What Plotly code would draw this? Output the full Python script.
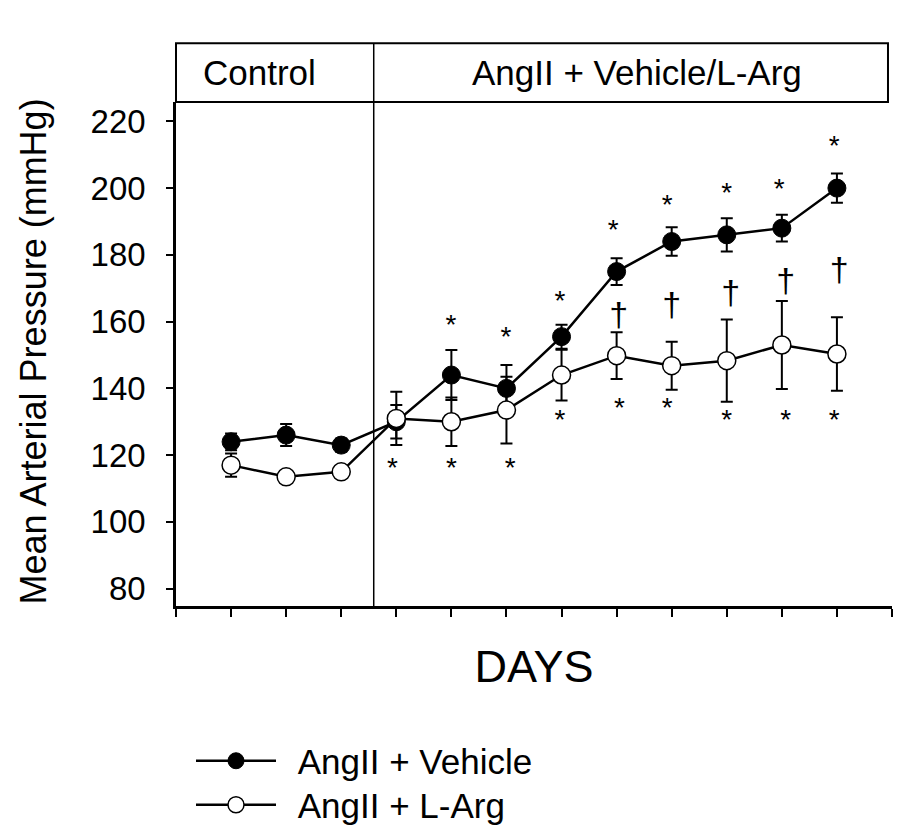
import plotly.graph_objects as go

# ---- data ----
days = [1, 2, 3, 4, 5, 6, 7, 8, 9, 10, 11, 12]
vehicle = [124, 126, 123, 130, 144, 140, 155.5, 175, 184, 186, 188, 200]
vehicle_err = [2.5, 3.3, 2, 5, 7.5, 7, 3.6, 4, 4.3, 5, 4, 4.4]
larg = [117, 113.5, 115, 131, 130, 133.5, 144, 149.8, 146.8, 148.3, 153, 150.3]
larg_err = [3.5, 1.5, 1.5, 8, 7.3, 10, 7.6, 7, 7.2, 12.3, 13.2, 11]
series_names = ["AngII + Vehicle", "AngII + L-Arg"]

# significance symbols (positions: glyph centres)
star_hi_x = [4.99, 5.99, 6.97, 7.94, 8.92, 10.0, 10.95, 11.95]
star_hi_y = [160.2, 156.7, 167.5, 188.7, 196.2, 199.8, 200.9, 213.8]
dagger_x = [8.04, 9.0, 10.07, 11.07, 12.04]
dagger_y = [162.7, 165.7, 169.2, 172.7, 176.2]
star_lo_x = [3.93, 5.0, 6.07, 6.97, 8.05, 8.92, 10.0, 11.07, 11.95]
star_lo_y = [117.4, 117.4, 117.4, 131.8, 135.3, 135.3, 131.8, 131.8, 131.8]

x_ticks = list(range(0, 14))
y_ticks = [80, 100, 120, 140, 160, 180, 200, 220]
phase_split = 3.59
header_labels = ["Control", "AngII + Vehicle/L-Arg"]
header_label_x = [1.52, 8.37]

FONT = "Liberation Sans, Arial, sans-serif"
STAR_SHIFT = 1.8    # asterisk glyph sits high in the line box
DAGGER_SHIFT = 1.4  # dagger glyph sits low
GAP = "\u00a0\u2009"

fig = go.Figure()

fig.add_trace(go.Scatter(
    x=days, y=vehicle, name=GAP + series_names[0], mode="lines+markers",
    line=dict(color="black", width=2.5), legend="legend",
    marker=dict(symbol="circle", size=18, color="black", line=dict(color="black", width=1)),
    error_y=dict(type="data", array=vehicle_err, visible=True, color="black", thickness=2, width=6),
))
fig.add_trace(go.Scatter(
    x=days, y=larg, name=GAP + series_names[1], mode="lines+markers",
    line=dict(color="black", width=2.5), legend="legend2",
    marker=dict(symbol="circle", size=18, color="white", line=dict(color="black", width=1.5)),
    error_y=dict(type="data", array=larg_err, visible=True, color="black", thickness=2, width=6),
))

fig.add_trace(go.Scatter(
    x=star_hi_x, y=[v - STAR_SHIFT for v in star_hi_y], mode="text",
    text=["*"] * len(star_hi_x), textfont=dict(family=FONT, size=28, color="black"),
    showlegend=False, hoverinfo="skip"))
fig.add_trace(go.Scatter(
    x=star_lo_x, y=[v - STAR_SHIFT for v in star_lo_y], mode="text",
    text=["*"] * len(star_lo_x), textfont=dict(family=FONT, size=28, color="black"),
    showlegend=False, hoverinfo="skip"))
fig.add_trace(go.Scatter(
    x=dagger_x, y=[v - DAGGER_SHIFT for v in dagger_y], mode="text",
    text=["†"] * len(dagger_x), textfont=dict(family=FONT, size=34, color="black"),
    showlegend=False, hoverinfo="skip"))

HEADER_TOP = 1.1166

# header box
fig.add_shape(type="rect", xref="x domain", yref="y domain",
              x0=0, x1=0.9944, y0=1, y1=HEADER_TOP,
              line=dict(color="black", width=2), fillcolor="rgba(0,0,0,0)")
# divider through plot and header
fig.add_shape(type="line", xref="x", yref="y domain",
              x0=phase_split, x1=phase_split, y0=0, y1=HEADER_TOP,
              line=dict(color="black", width=1.5))

for lab, lx in zip(header_labels, header_label_x):
    fig.add_annotation(x=lx, xref="x", y=(1 + HEADER_TOP) / 2, yref="y domain",
                       text=lab, showarrow=False, xanchor="center", yanchor="middle",
                       font=dict(family=FONT, size=35, color="black"))

# y-axis title
fig.add_annotation(x=-0.1997, xref="paper", y=0.505, yref="paper",
                   text="Mean Arterial Pressure (mmHg)", textangle=-90, showarrow=False,
                   xanchor="center", yanchor="middle",
                   font=dict(family=FONT, size=36, color="black"))

legend_common = dict(
    xref="container", yref="container", xanchor="left", yanchor="middle",
    font=dict(family=FONT, size=35, color="black"),
    itemwidth=80, bgcolor="rgba(0,0,0,0)",
)

W, H = 905, 837
fig.update_layout(
    width=W, height=H,
    margin=dict(l=168, r=21, t=94, b=238.5, autoexpand=False),
    paper_bgcolor="white", plot_bgcolor="white",
    font=dict(family=FONT, color="black"),
    showlegend=True,
    legend=dict(x=183 / W, y=1 - 753 / H, **legend_common),
    legend2=dict(x=183 / W, y=1 - 797 / H, **legend_common),
    xaxis=dict(
        range=[0, 13], tickvals=x_ticks, showticklabels=False,
        ticks="outside", ticklen=8, tickwidth=2, tickcolor="black",
        showline=True, linecolor="black", linewidth=3,
        showgrid=False, zeroline=False,
        title=dict(text="DAYS", font=dict(family=FONT, size=45, color="black"), standoff=35),
    ),
    yaxis=dict(
        range=[74.8, 225.8], tickvals=y_ticks,
        ticks="outside", ticklen=7, tickwidth=1.5, tickcolor="black",
        showline=True, linecolor="black", linewidth=2.5,
        showgrid=False, zeroline=False,
        tickfont=dict(family=FONT, size=33, color="black"),
        ticklabelstandoff=14,
    ),
)

fig.write_html("out.html")
